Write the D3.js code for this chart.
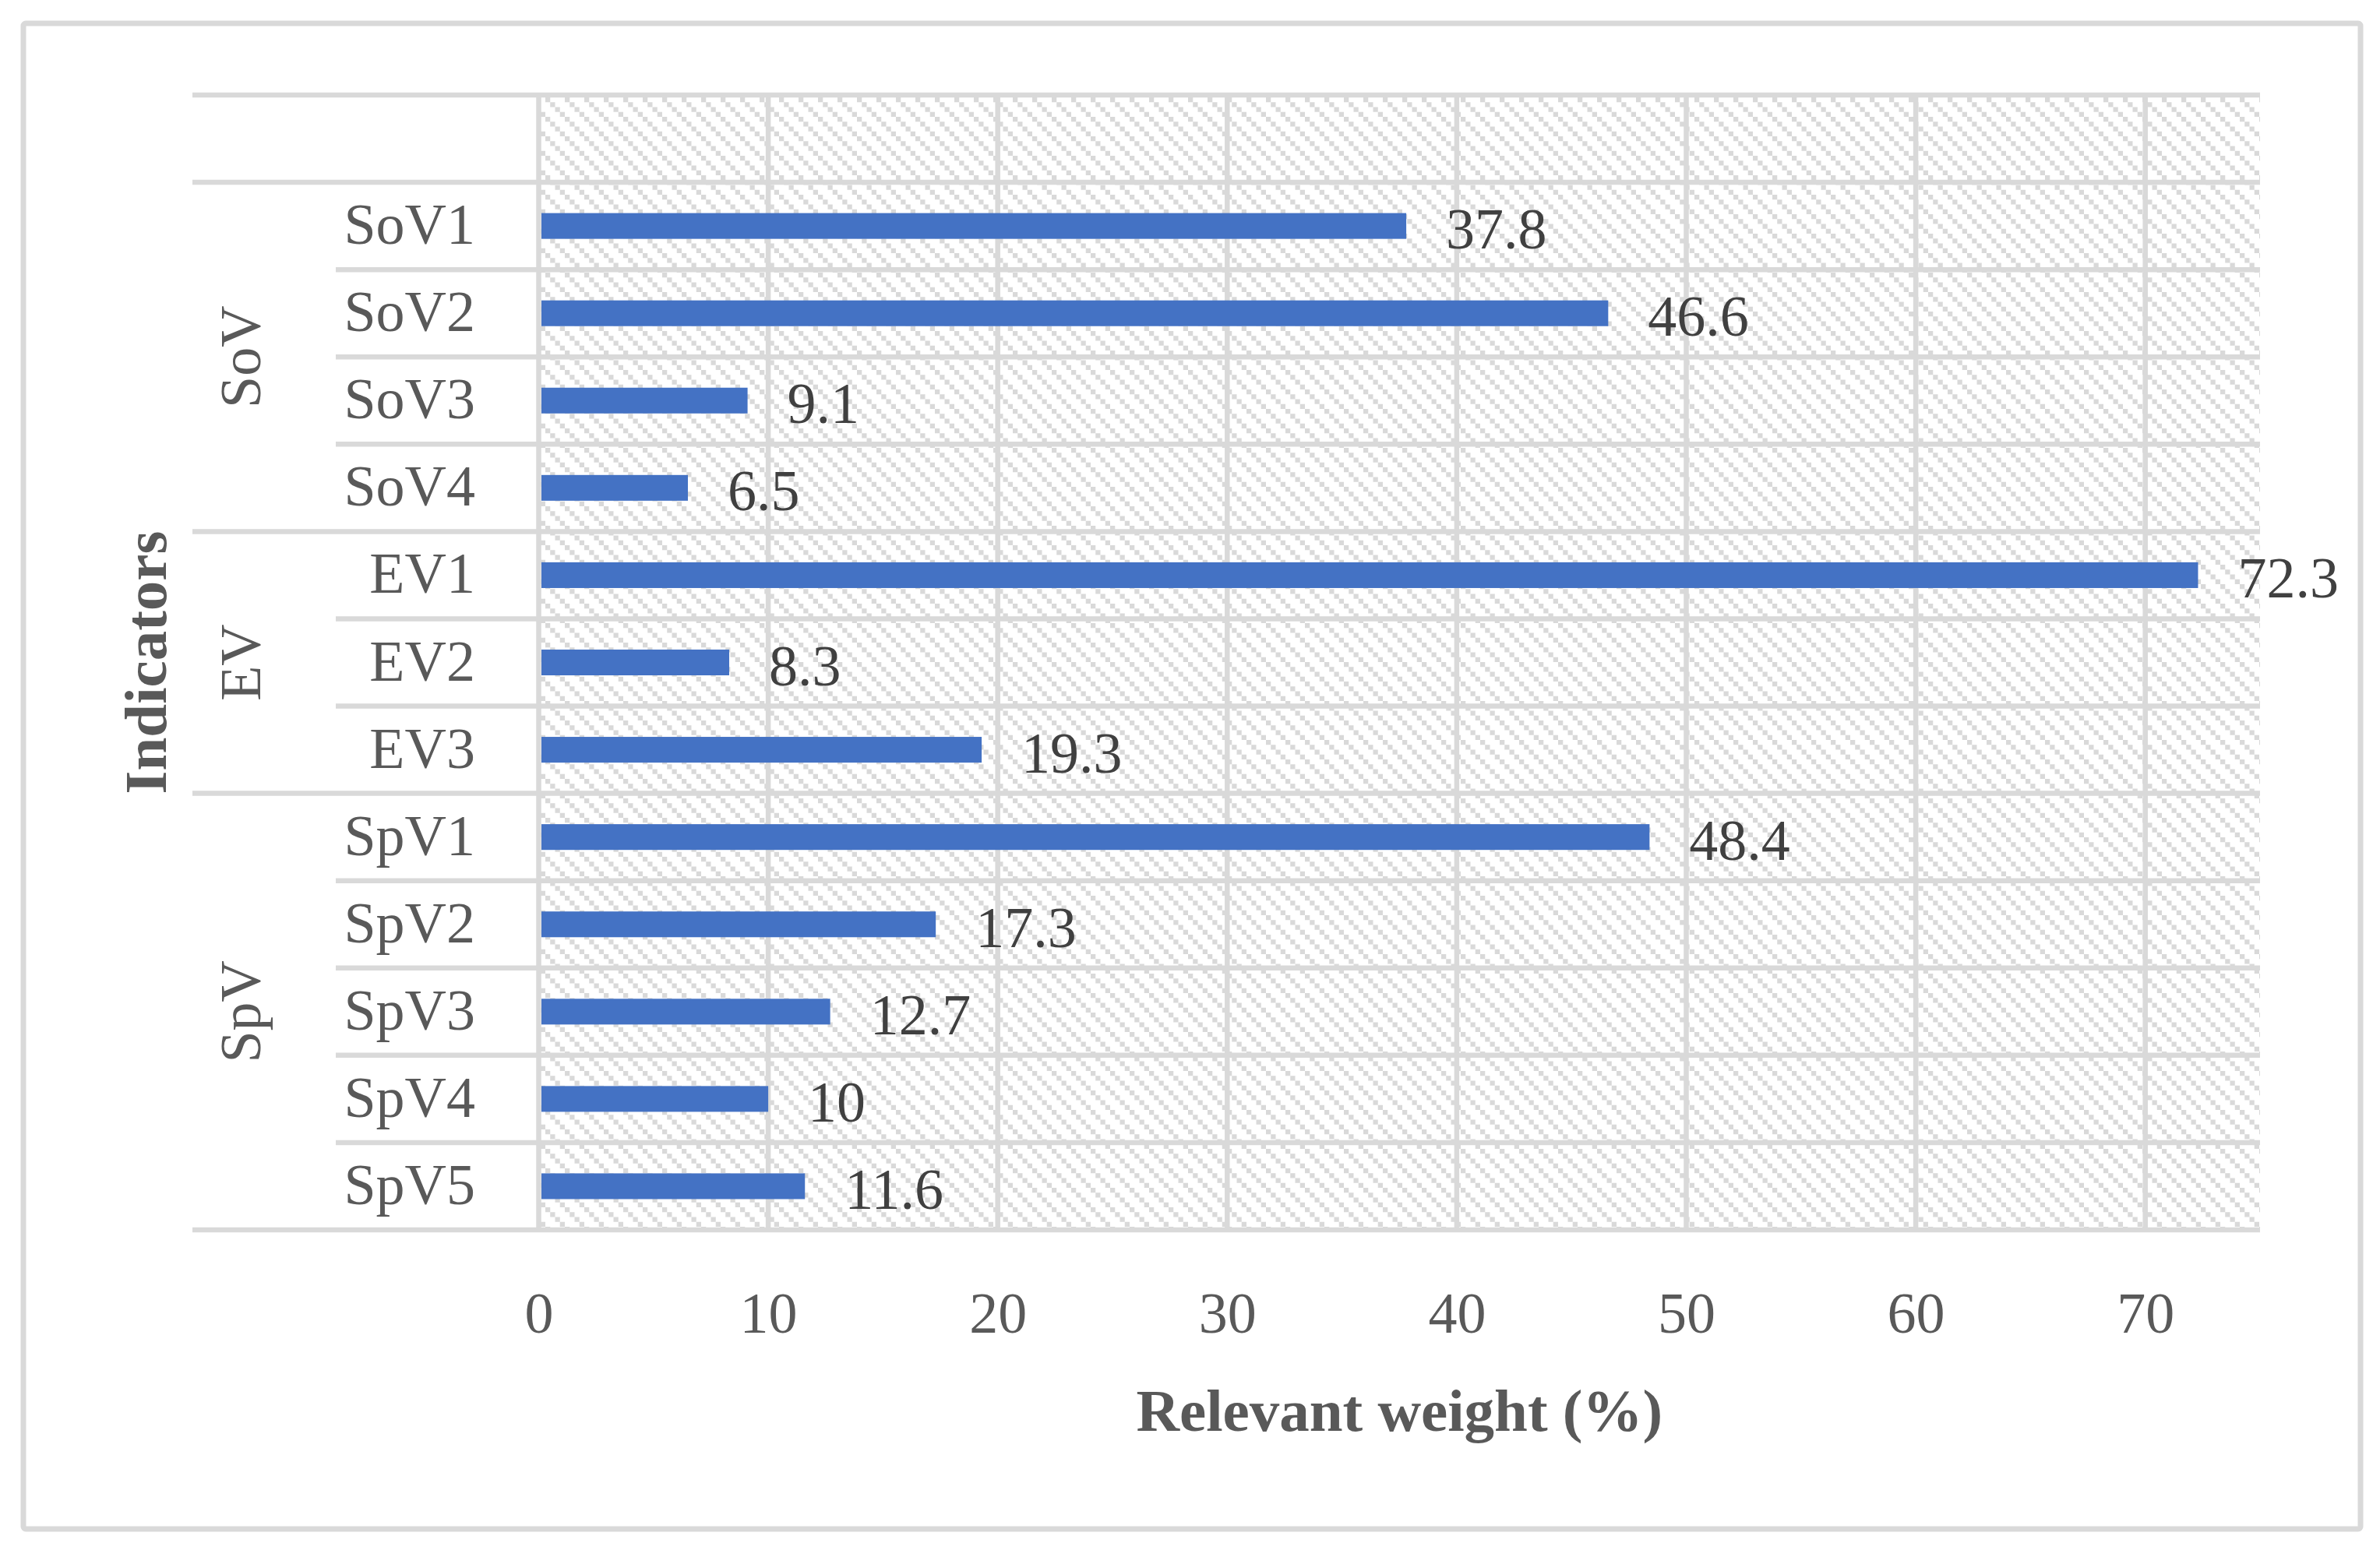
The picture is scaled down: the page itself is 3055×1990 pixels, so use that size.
<!DOCTYPE html>
<html>
<head>
<meta charset="utf-8">
<script src="https://cdn.jsdelivr.net/npm/d3@7"></script>
<style>
  body { margin: 0; background: #fff; }
  svg { display: block; }
</style>
</head>
<body>
<div id="chart"></div>
<script>
// chart data
const groups = ["SoV", "EV", "SpV"];
const indicators = ["SoV1", "SoV2", "SoV3", "SoV4", "EV1", "EV2", "EV3",
    "SpV1", "SpV2", "SpV3", "SpV4", "SpV5"];
const indicatorGroup = ["SoV", "SoV", "SoV", "SoV", "EV", "EV", "EV",
    "SpV", "SpV", "SpV", "SpV", "SpV"];
const weights = [37.8, 46.6, 9.1, 6.5, 72.3, 8.3, 19.3, 48.4, 17.3, 12.7, 10, 11.6];
const xTicks = [0, 10, 20, 30, 40, 50, 60, 70];
const xTitle = "Relevant weight (%)";
const yTitle = "Indicators";

const W = 3055, H = 1990;
const font = "'Liberation Serif', 'Times New Roman', serif";
const gridColor = "#d9d9d9";
const textColor = "#595959";

const plot = { left: 691.5, right: 2901, top: 122, bottom: 1579 };

const rows = indicators.map((name, i) => ({
    name: name,
    group: indicatorGroup[i],
    value: weights[i]
}));

// the empty first slot is the blank row above SoV
const y = d3.scaleBand()
    .domain(["blank"].concat(indicators))
    .range([plot.top, plot.bottom])
    .padding(0);

const x = d3.scaleLinear()
    .domain([0, 75])
    .range([plot.left, plot.right]);

const svg = d3.select("#chart")
    .append("svg")
    .attr("width", W)
    .attr("height", H)
    .attr("viewBox", `0 0 ${W} ${H}`);

// hatch fill
const defs = svg.append("defs");
const pat = defs.append("pattern")
    .attr("id", "hatch")
    .attr("patternUnits", "userSpaceOnUse")
    .attr("width", 25)
    .attr("height", 25);
pat.append("rect").attr("width", 25).attr("height", 25).attr("fill", "#fff");
d3.range(4).forEach((k) => {
    pat.append("rect")
        .attr("x", k * 6.25)
        .attr("y", k * 6.25)
        .attr("width", 6.25)
        .attr("height", 6.25)
        .attr("fill", gridColor);
});

// outer frame
svg.append("rect")
    .attr("x", 30).attr("y", 30)
    .attr("width", 3000).attr("height", 1933)
    .attr("rx", 3)
    .attr("fill", "#fff")
    .attr("stroke", gridColor)
    .attr("stroke-width", 7);

svg.append("rect")
    .attr("x", plot.left)
    .attr("y", plot.top)
    .attr("width", plot.right - plot.left)
    .attr("height", plot.bottom - plot.top)
    .attr("fill", "url(#hatch)");

// vertical gridlines
svg.append("g")
    .selectAll("line")
    .data(xTicks)
    .join("line")
    .attr("x1", (d) => x(d))
    .attr("x2", (d) => x(d))
    .attr("y1", plot.top)
    .attr("y2", plot.bottom)
    .attr("stroke", gridColor)
    .attr("stroke-width", 6.5);

// horizontal separators: long ones start a group, short ones split rows
const groupStarts = new Set(groups.map((g) => indicators[indicatorGroup.indexOf(g)]));
const sepData = [{ yv: plot.top, long: true }];
indicators.forEach((name) => {
    sepData.push({ yv: y(name), long: groupStarts.has(name) });
});
sepData.push({ yv: plot.bottom, long: true });

svg.append("g")
    .selectAll("line")
    .data(sepData)
    .join("line")
    .attr("x1", (d) => (d.long ? 247 : 431))
    .attr("x2", plot.right)
    .attr("y1", (d) => d.yv)
    .attr("y2", (d) => d.yv)
    .attr("stroke", gridColor)
    .attr("stroke-width", 6.5);

// bars
const barH = y.bandwidth() * 0.295;
svg.append("g")
    .selectAll("rect")
    .data(rows)
    .join("rect")
    .attr("x", x(0) + 3.5)
    .attr("y", (d) => y(d.name) + (y.bandwidth() - barH) / 2)
    .attr("width", (d) => x(d.value) - x(0) - 3.5)
    .attr("height", barH)
    .attr("fill", "#4472c4");

// value labels
svg.append("g")
    .selectAll("text")
    .data(rows)
    .join("text")
    .attr("x", (d) => x(d.value) + 51)
    .attr("y", (d) => y(d.name) + y.bandwidth() / 2 + 29)
    .style("font-family", font)
    .style("font-size", "74px")
    .style("fill", "#404040")
    .text((d) => d.value);

// indicator labels
svg.append("g")
    .selectAll("text")
    .data(rows)
    .join("text")
    .attr("x", 610)
    .attr("y", (d) => y(d.name) + y.bandwidth() / 2 + 23)
    .attr("text-anchor", "end")
    .style("font-family", font)
    .style("font-size", "74px")
    .style("fill", textColor)
    .text((d) => d.name);

// group labels
groups.forEach((g) => {
    const members = indicators.filter((n, i) => indicatorGroup[i] === g);
    const y0 = y(members[0]);
    const y1 = y(members[members.length - 1]) + y.bandwidth();
    svg.append("text")
        .attr("transform", `translate(334,${(y0 + y1) / 2}) rotate(-90)`)
        .attr("text-anchor", "middle")
        .style("font-family", font)
        .style("font-size", "74px")
        .style("fill", textColor)
        .text(g);
});

// x axis tick labels
const xAxis = svg.append("g")
    .attr("transform", `translate(0,${plot.bottom})`)
    .call(d3.axisBottom(x).tickValues(xTicks).tickSize(0).tickPadding(79));
xAxis.select(".domain").remove();
xAxis.selectAll("text")
    .style("font-family", font)
    .style("font-size", "74px")
    .style("fill", textColor);

// axis titles
svg.append("text")
    .attr("x", (plot.left + plot.right) / 2)
    .attr("y", 1837)
    .attr("text-anchor", "middle")
    .style("font-family", font)
    .style("font-size", "77px")
    .style("font-weight", "bold")
    .style("fill", textColor)
    .text(xTitle);

svg.append("text")
    .attr("transform", `translate(213,${(plot.top + plot.bottom) / 2}) rotate(-90)`)
    .attr("text-anchor", "middle")
    .style("font-family", font)
    .style("font-size", "77px")
    .style("font-weight", "bold")
    .style("fill", textColor)
    .text(yTitle);
</script>
</body>
</html>
